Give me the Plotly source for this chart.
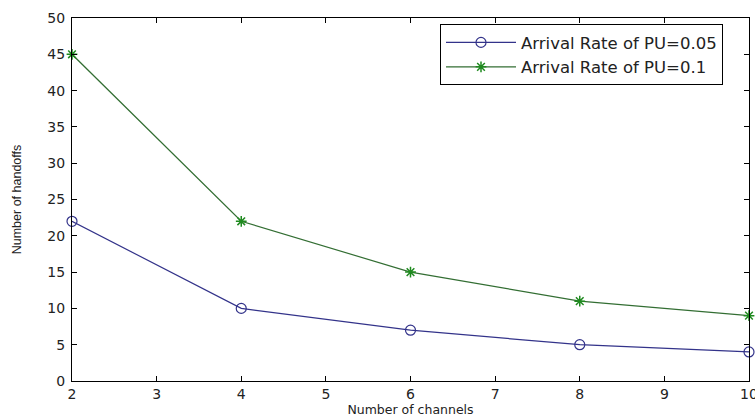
import plotly.graph_objects as go

channels = [2, 4, 6, 8, 10]
handoffs_005 = [22, 10, 7, 5, 4]
handoffs_01 = [45, 22, 15, 11, 9]
names = ["Arrival Rate of PU=0.05", "Arrival Rate of PU=0.1"]

fig = go.Figure()
fig.add_trace(go.Scatter(
    x=channels, y=handoffs_005, name=names[0], mode="lines+markers",
    line=dict(color="#33338a", width=1.2),
    marker=dict(symbol="circle-open", size=10, color="#33338a", line=dict(width=1.2)),
    cliponaxis=False,
))
fig.add_trace(go.Scatter(
    x=channels, y=handoffs_01, name=names[1], mode="lines+markers",
    line=dict(color="#336e33", width=1.2),
    marker=dict(symbol="asterisk-open", size=9, color="#1f8a1f", line=dict(width=1.5)),
    cliponaxis=False,
))

tickfont = dict(family="DejaVu Sans", size=14, color="#222")
axis_common = dict(
    showline=True, linecolor="black", linewidth=1, mirror="ticks",
    ticks="inside", ticklen=5, tickcolor="black", showgrid=False, zeroline=False,
    tickfont=tickfont,
)
fig.update_xaxes(range=[2, 10], dtick=1, tick0=2, ticklabeloverflow="allow",
                 title=dict(text="Number of channels", standoff=0,
                            font=dict(family="DejaVu Sans", size=12.5, color="#222")),
                 **axis_common)
fig.update_yaxes(range=[0, 50], dtick=5, ticklabelstandoff=3,
                 title=dict(text="Number of handoffs", standoff=22,
                            font=dict(family="Liberation Sans Narrow, Liberation Sans, Arial", size=12.5, color="#222")),
                 **axis_common)

fig.update_layout(
    width=755, height=419,
    margin=dict(l=72, r=6, t=18, b=38, autoexpand=False),
    paper_bgcolor="white", plot_bgcolor="white",
    legend=dict(x=(440 - 72) / 677, y=0.983, xanchor="left", yanchor="top",
                bgcolor="white", bordercolor="black", borderwidth=1,
                font=dict(family="DejaVu Sans", size=16.5, color="#222"),
                tracegroupgap=0, itemwidth=70),
    showlegend=True,
)

fig.write_html("out.html")
